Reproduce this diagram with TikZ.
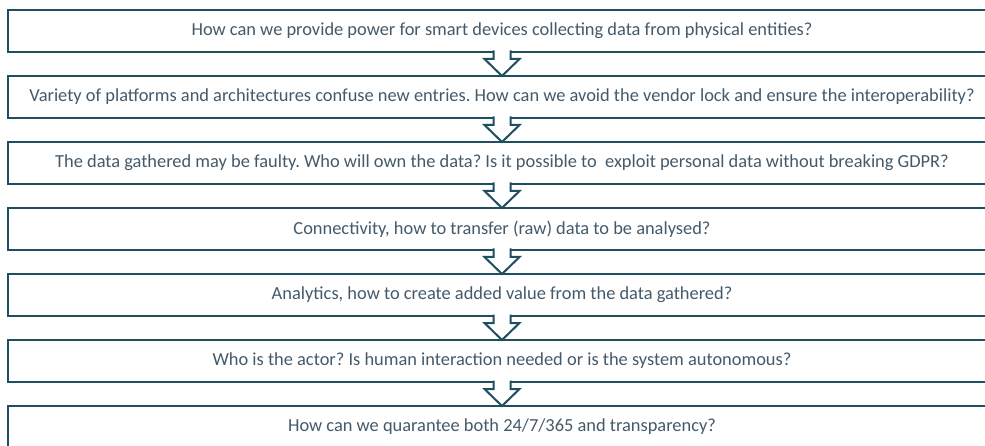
\documentclass[tikz,border=0pt]{standalone}
\usepackage{fontspec}
\setmainfont{Carlito}
\usetikzlibrary{positioning}
\definecolor{boxline}{RGB}{31,78,96}
\definecolor{boxtext}{RGB}{68,90,106}
\tikzset{
    question/.style={draw=boxline,line width=2.5pt,fill=white,minimum width=988pt,
        minimum height=42pt,outer sep=0pt,inner sep=0pt,text=boxtext,
        font=\fontsize{18.4}{21}\selectfont\frenchspacing},
    flowarrow/.style={draw=boxline,line width=2pt,fill=white,line join=miter}
}
\begin{document}
\begin{tikzpicture}[x=1pt,y=1pt,node distance=24pt]
    \fill[white] (0,0) rectangle (985,-446);
    \useasboundingbox (0,0) rectangle (985,-446);

    \node[question] (q1) at (502,-31) {How can we provide power for smart devices collecting data from physical entities?};
    \node[question,below=of q1] (q2) {Variety of platforms and architectures confuse new entries. How can we avoid the vendor lock and ensure the interoperability?};
    \node[question,below=of q2] (q3) {The data gathered may be faulty. Who will own the data? Is it possible to \ exploit personal data without breaking GDPR?};
    \node[question,below=of q3] (q4) {Connectivity, how to transfer (raw) data to be analysed?};
    \node[question,below=of q4] (q5) {Analytics, how to create added value from the data gathered?};
    \node[question,below=of q5] (q6) {Who is the actor? Is human interaction needed or is the system autonomous?};
    \node[question,below=of q6] (q7) {How can we quarantee both 24/7/365 and transparency?};

    % hollow arrows between the boxes
    \foreach \a/\b in {q1/q2,q2/q3,q3/q4,q4/q5,q5/q6,q6/q7}
        \filldraw[flowarrow] (\a.south) ++(-8.5,1.5) -- ++(0,-8.5) -- ++(-9,0) -- (\b.north)
            -- ++(17.5,17) -- ++(-9,0) -- ++(0,8.5);
\end{tikzpicture}
\end{document}
